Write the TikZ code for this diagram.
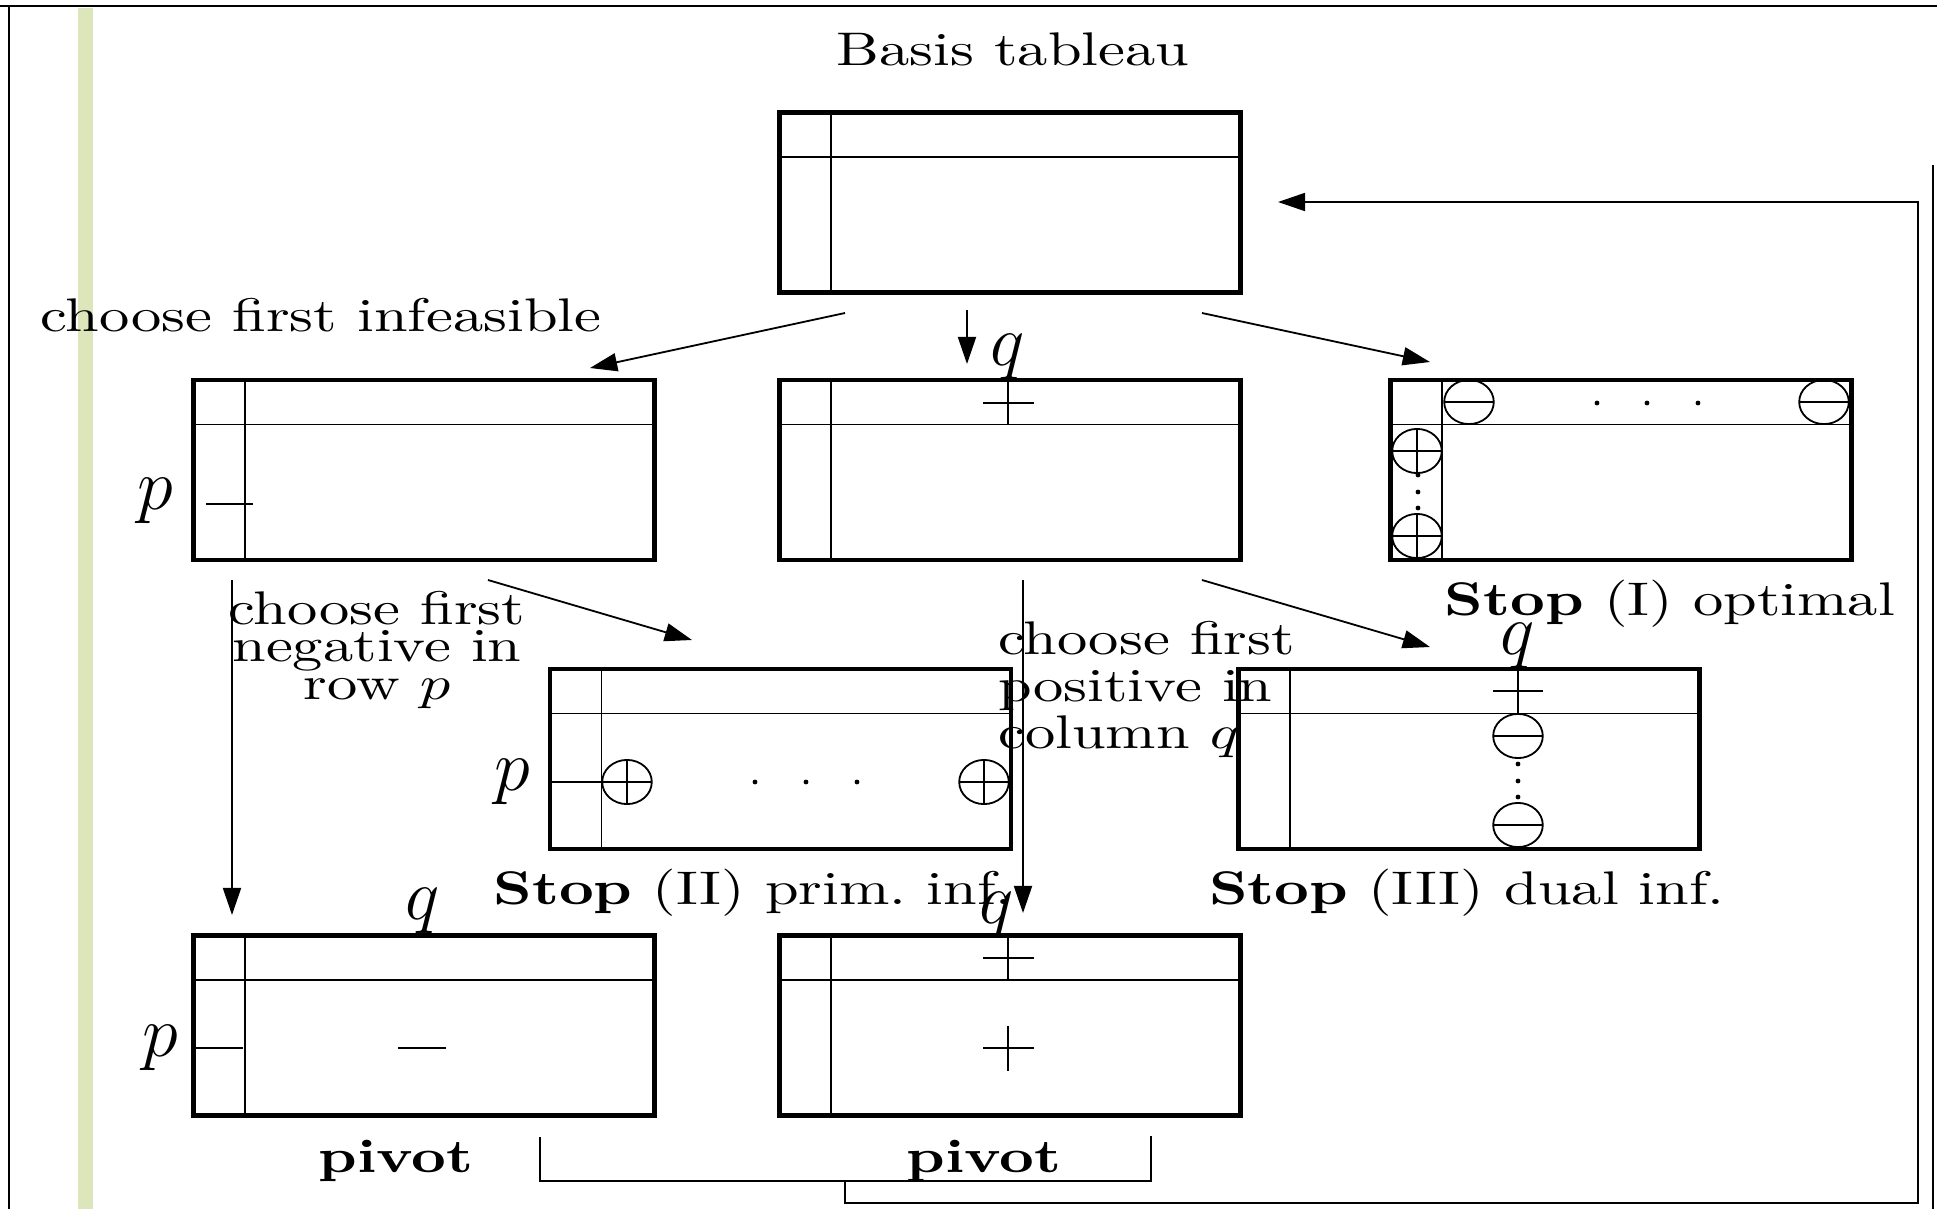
\documentclass[tikz,border=0pt]{standalone}
\usetikzlibrary{arrows.meta,calc}
\definecolor{barcolor}{RGB}{221,229,187}
\tikzset{
  tableau/.style={draw, line width=0.7pt, inner sep=0pt,
    minimum width=76.2pt, minimum height=29.75pt,
    path picture={
      \draw[line width=0.3pt]
        ([xshift=8.5pt]path picture bounding box.north west) --
        ([xshift=8.5pt]path picture bounding box.south west)
        ([yshift=-7.35pt]path picture bounding box.north west) --
        ([yshift=-7.35pt]path picture bounding box.north east);
    }},
  lbl/.style={yscale=0.78, inner sep=0pt},
  var/.style={font=\large, inner sep=0pt},
  thinline/.style={line width=0.3pt},
  arr/.style={thinline, -{Triangle[length=4.5pt,width=3pt]}},
  pics/oplus/.style={code={
    \draw[thinline] (0,0) ellipse [x radius=4.1pt, y radius=3.65pt]
      (-4.1pt,0) -- (4.1pt,0) (0,-3.65pt) -- (0,3.65pt);}},
  pics/ominus/.style={code={
    \draw[thinline] (0,0) ellipse [x radius=4.1pt, y radius=3.65pt]
      (-4.1pt,0) -- (4.1pt,0);}},
}
\begin{document}
\begin{tikzpicture}[x=0.1653pt, y=-0.1653pt]
  \useasboundingbox (0,0) rectangle (1937,1209);
  % page frame
  \fill[barcolor] (78,8) rectangle (93,1209);
  \draw[line width=0.4pt] (0,6) -- (1937,6);
  \draw[line width=0.4pt] (9,6) -- (9,1209);
  \draw[line width=0.4pt] (1933,165) -- (1933,1209);

  % tableaux
  \node[tableau] (t0) at (1010,202.5) {};
  \node[tableau] (t1) at (424,470) {};
  \node[tableau] (t2) at (1010,470) {};
  \node[tableau] (t3) at (1621,470) {};
  \node[tableau] (t4) at (780.5,759) {};
  \node[tableau] (t5) at (1469,759) {};
  \node[tableau] (t6) at (424,1025.5) {};
  \node[tableau] (t7) at (1010,1025.5) {};

  % texts
  \node[lbl, anchor=base] (basis) at (1013,65) {Basis tableau};
  \node[lbl, anchor=base] (infeas) at (321,331) {choose first infeasible};
  \node[lbl, anchor=north, align=center, font=\fontsize{10}{8}\selectfont]
    (negrow) at (377,590) {choose first\\negative in\\row $p$};
  \node[lbl, anchor=north west, align=left, font=\fontsize{10}{10}\selectfont]
    (poscol) at (997,620) {choose first\\positive in\\column $q$};
  \node[lbl, anchor=base] (stop1) at (1670,615) {\textbf{Stop} (I) optimal};
  \node[lbl, anchor=base] (stop2) at (753,904) {\textbf{Stop} (II) prim.\ inf.};
  \node[lbl, anchor=base] (stop3) at (1467,904) {\textbf{Stop} (III) dual inf.};
  \node[lbl, anchor=base] (piv1) at (396,1172) {\textbf{pivot}};
  \node[lbl, anchor=base] (piv2) at (984,1172) {\textbf{pivot}};

  % row p and column q
  \node[var] (p1) at (155,501) {$p$};
  \node[var] (q2) at (1008,357) {$q$};
  \node[var] (p4) at (512,782) {$p$};
  \node[var] (q5) at (1518,646) {$q$};
  \node[var] (p6) at (160,1048) {$p$};
  \node[var] (q6) at (423,911) {$q$};
  \node[var] (q7) at (997,915) {$q$};

  % signs in the tableaux
  \draw[thinline] (206,504) -- (253,504);
  \draw[thinline] (983,403) -- (1034,403) (1008,380.5) -- (1008,424.5);
  \draw[thinline] (550,782) -- (602,782);
  \draw[thinline] (1493,691) -- (1543,691) (1518,669) -- (1518,714);
  \draw[thinline] (194,1048) -- (243,1048) (398,1048) -- (446,1048);
  \draw[thinline] (983,958) -- (1034,958) (1008,935) -- (1008,980)
    (983,1048) -- (1034,1048) (1008,1026) -- (1008,1071);
  \pic at (1469,402) {ominus};
  \pic at (1824,402) {ominus};
  \pic at (1417,451) {oplus};
  \pic at (1417,536) {oplus};
  \pic at (627,782) {oplus};
  \pic at (984,782) {oplus};
  \pic at (1518,736) {ominus};
  \pic at (1518,825) {ominus};
  \foreach \x in {1597,1647,1698} \fill (\x,403) circle [radius=0.4pt];
  \foreach \y in {475,492,508} \fill (1418,\y) circle [radius=0.4pt];
  \foreach \x in {755,806,857} \fill (\x,782) circle [radius=0.4pt];
  \foreach \y in {764,781,797} \fill (1518,\y) circle [radius=0.4pt];

  % arrow ends
  \coordinate (t0-l) at (845,313);
  \coordinate (t0-m) at (967,310);
  \coordinate (t0-r) at (1202,313);
  \coordinate (t1-in) at (590,368);
  \coordinate (t2-in) at (967,364);
  \coordinate (t3-in) at (1430,362);
  \coordinate (t1-r) at (488,580);
  \coordinate (t1-d) at (232,580);
  \coordinate (t2-r) at (1202,580);
  \coordinate (t2-d) at (1023,580);
  \coordinate (t4-in) at (692,640);
  \coordinate (t5-in) at (1430,647);
  \coordinate (t6-in) at (232,915);
  \coordinate (t7-in) at (1023,913);
  \coordinate (br-l) at (540,1137);
  \coordinate (br-r) at (1151,1136);
  \coordinate (br-m) at (845,1181);
  \coordinate (back) at (1278,202);

  \draw[arr] (t0-l) -- (t1-in);
  \draw[arr] (t0-m) -- (t2-in);
  \draw[arr] (t0-r) -- (t3-in);
  \draw[arr] (t1-r) -- (t4-in);
  \draw[arr] (t2-r) -- (t5-in);
  \draw[arr] (t1-d) -- (t6-in);
  \draw[arr] (t2-d) -- (t7-in);
  \draw[thinline] (br-l) -- (540,1181) -- (1151,1181) -- (br-r);
  \draw[arr] (br-m) -- (845,1203) -- (1918,1203) -- (1918,202) -- (back);
\end{tikzpicture}
\end{document}
